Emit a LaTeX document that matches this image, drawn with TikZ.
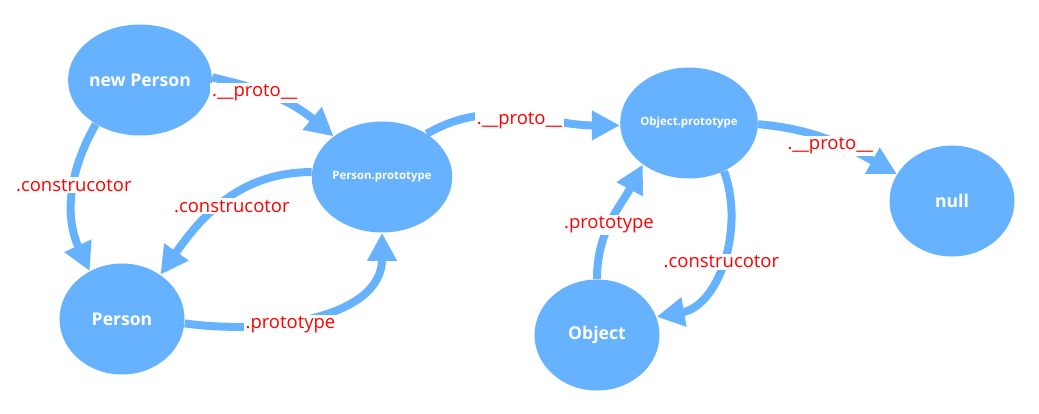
\documentclass[tikz,border=0pt]{standalone}
\usepackage{fontspec}
\setmainfont{Open Sans}
\usetikzlibrary{shapes.geometric, arrows.meta}
\definecolor{nodeblue}{RGB}{102,178,255}
\tikzstyle{obj} = [ellipse, fill=nodeblue, text=white, font=\bfseries\fontsize{10}{12}\selectfont, minimum width=25mm, minimum height=22.2mm, inner sep=0pt]
\tikzstyle{objsmall} = [obj, font=\bfseries\fontsize{6.5}{8}\selectfont]
\tikzstyle{link} = [draw=nodeblue, line width=1.6mm, -{Triangle[length=5.6mm,width=5.6mm]}]
\tikzstyle{lbl} = [fill=white, text=red, inner sep=1pt, font=\fontsize{10.5}{12}\selectfont]

\begin{document}
\begin{tikzpicture}[x=0.2mm,y=0.2mm]
\useasboundingbox (0,0) rectangle (1039,-414);

\node (np) [obj] at (140,-80) {new Person};
\node (pp) [objsmall] at (382,-177) {Person.prototype};
\node (per) [obj] at (122,-319) {Person};
\node (op) [objsmall] at (689,-123) {Object.prototype};
\node (obj) [obj] at (597,-335) {Object};
\node (null) [obj] at (952,-201) {null};

\draw[link] (np.2) to[out=-12, in=140] node[lbl,pos=0.31,yshift=-0.8mm] {.\_\_proto\_\_} (pp.140);
\draw[link] (np.225) to[out=240, in=115] node[lbl,pos=0.42] {.construcotor} (per.124);
\draw[link] (pp.176) to[out=180, in=55] node[lbl,pos=0.45,yshift=-2mm] {.construcotor} (per.49);
\draw[link] (per.-4) to[out=-8, in=270] node[lbl,pos=0.4,yshift=-0.8mm] {.prototype} (pp.south);
\draw[link] (pp.44) to[out=30, in=180] node[lbl,pos=0.5,yshift=-1mm] {.\_\_proto\_\_} (op.182);
\draw[link] (obj.north) to[out=90, in=242] node[lbl,pos=0.45] {.prototype} (op.222);
\draw[link] (op.306) to[out=-70, in=10] node[lbl,pos=0.5] {.construcotor} (obj.17);
\draw[link] (op.-1) to[out=-5, in=151] node[lbl,pos=0.5,yshift=-1mm] {.\_\_proto\_\_} (null.154);

\end{tikzpicture}
\end{document}
